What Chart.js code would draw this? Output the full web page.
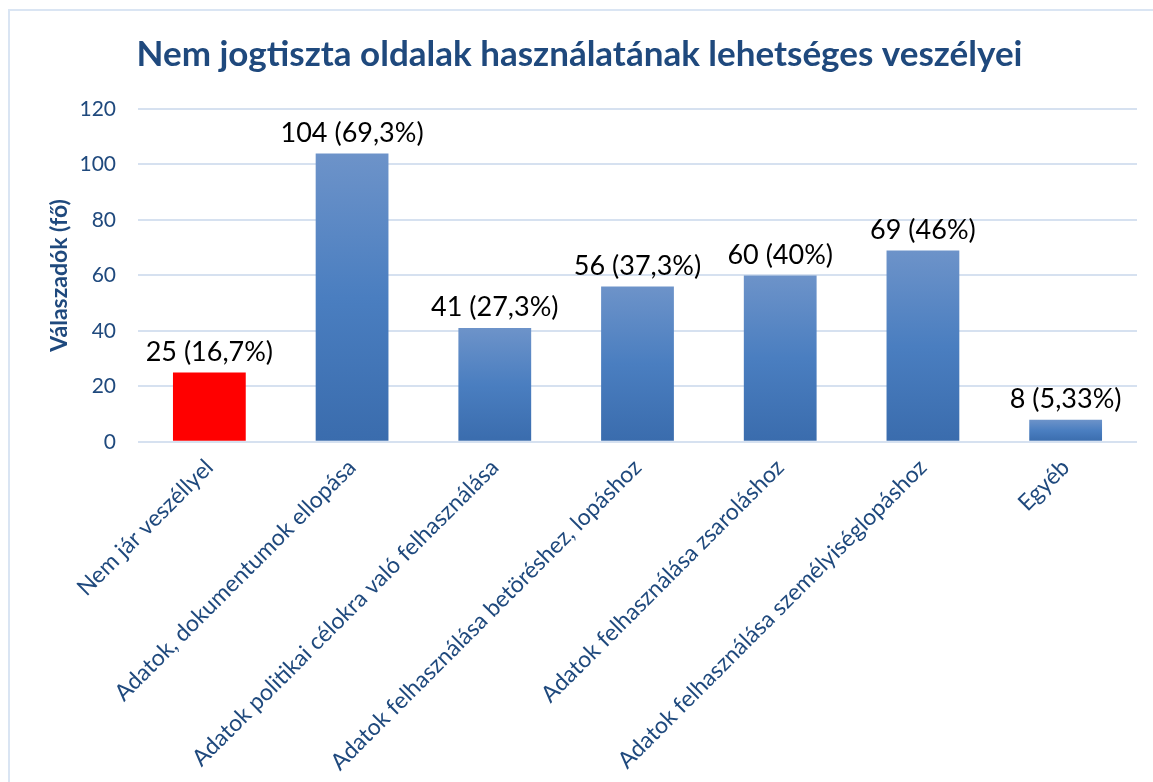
<!DOCTYPE html>
<html>
<head>
<meta charset="utf-8">
<script src="https://cdn.jsdelivr.net/npm/chart.js@4.4.1/dist/chart.umd.min.js"></script>
<style>
  html, body { margin: 0; padding: 0; background: #fff; overflow: hidden; }
  #frame { position: absolute; left: 8px; top: 9px; width: 1300px; height: 900px; border: 2px solid #dae5f3; }
  #wrap { position: absolute; left: 0; top: 0; width: 1153px; height: 782px; }
</style>
</head>
<body>
<div id="frame"></div>
<div id="wrap"><canvas id="chart"></canvas></div>
<script>
// adatok
const categories = [
  'Nem jár veszéllyel',
  'Adatok, dokumentumok ellopása',
  'Adatok politikai célokra való felhasználása',
  'Adatok felhasználása betöréshez, lopáshoz',
  'Adatok felhasználása zsaroláshoz',
  'Adatok felhasználása személyiséglopáshoz',
  'Egyéb'
];
const respondents = [25, 104, 41, 56, 60, 69, 8];
const percentLabels = ['16,7%', '69,3%', '27,3%', '37,3%', '40%', '46%', '5,33%'];
const yTicks = [0, 20, 40, 60, 80, 100, 120];

const DARK_BLUE = '#1f497d';
const FONT = 'Lato, "Open Sans", sans-serif';

// oszlop szín: első piros, többi kék színátmenet
function barColor(ctx) {
  if (ctx.dataIndex === 0) return '#ff0000';
  const chart = ctx.chart;
  const y = chart.scales.y;
  if (!chart.chartArea || !y) return '#4f81bd';
  const top = y.getPixelForValue(respondents[ctx.dataIndex]);
  const base = y.getPixelForValue(0);
  if (!isFinite(top) || !isFinite(base) || top === base) return '#4f81bd';
  const g = chart.ctx.createLinearGradient(0, top, 0, base);
  g.addColorStop(0, '#6d93c9');
  g.addColorStop(0.5, '#4a7ec0');
  g.addColorStop(1, '#3a6cad');
  return g;
}

// adatcímkék az oszlopok fölött
const valueLabels = {
  id: 'valueLabels',
  afterDatasetsDraw(chart) {
    const ctx = chart.ctx;
    const meta = chart.getDatasetMeta(0);
    ctx.save();
    ctx.font = '27px ' + FONT;
    ctx.fillStyle = '#000';
    ctx.textAlign = 'center';
    ctx.textBaseline = 'bottom';
    meta.data.forEach((bar, i) => {
      ctx.fillText(respondents[i] + ' (' + percentLabels[i] + ')', bar.x, bar.y - 7);
    });
    ctx.restore();
  }
};

new Chart(document.getElementById('chart').getContext('2d'), {
  type: 'bar',
  data: {
    labels: categories,
    datasets: [{
      data: respondents,
      backgroundColor: barColor,
      borderWidth: 0,
      categoryPercentage: 1,
      barPercentage: 0.51
    }]
  },
  options: {
    responsive: true,
    maintainAspectRatio: false,
    animation: false,
    layout: { padding: { left: 22, right: 16, top: 34, bottom: -6 } },
    plugins: {
      legend: { display: false },
      tooltip: { enabled: false },
      title: {
        display: true,
        text: 'Nem jogtiszta oldalak használatának lehetséges veszélyei',
        color: DARK_BLUE,
        font: { family: FONT, size: 35, weight: 'bold' },
        padding: { top: 0, bottom: 33 }
      }
    },
    scales: {
      x: {
        grid: { display: false, drawTicks: false },
        border: { display: false },
        ticks: {
          color: DARK_BLUE,
          font: { family: FONT, size: 23 },
          minRotation: 45,
          maxRotation: 45,
          padding: 12,
          autoSkip: false
        }
      },
      y: {
        min: 0,
        max: 120,
        afterBuildTicks(axis) { axis.ticks = yTicks.map(v => ({ value: v })); },
        afterFit(axis) { axis.width = 116; },
        grid: { color: '#d6e1f0', lineWidth: 2, drawTicks: false },
        border: { display: false },
        ticks: {
          color: DARK_BLUE,
          font: { family: FONT, size: 21 },
          padding: 22
        },
        title: {
          display: true,
          text: 'Válaszadók (fő)',
          color: DARK_BLUE,
          font: { family: FONT, size: 23, weight: 'bold' },
          padding: { top: 24, bottom: 0 }
        }
      }
    }
  },
  plugins: [valueLabels]
});
</script>
</body>
</html>
